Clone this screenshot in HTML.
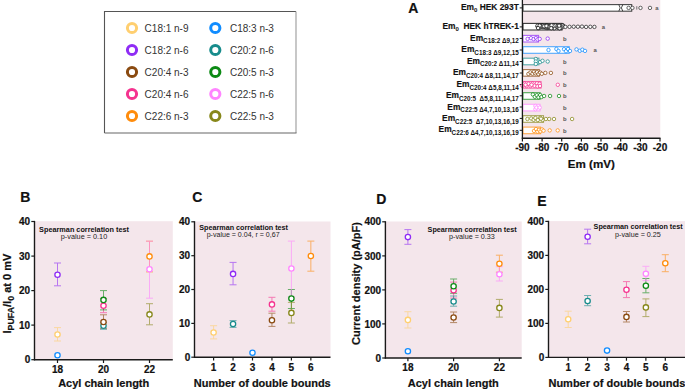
<!DOCTYPE html>
<html><head><meta charset="utf-8"><style>
html,body{margin:0;padding:0;background:#fff;width:685px;height:390px;overflow:hidden}
svg{position:absolute;left:0;top:0}
</style></head><body>
<svg width="685" height="390" viewBox="0 0 685 390">
<rect x="104.5" y="11.5" width="191.5" height="121.5" fill="#fff" stroke="none"/>
<path d="M104.5,133 V11.5 H296" fill="none" stroke="#555" stroke-width="1.1"/>
<path d="M296,11.5 V133" fill="none" stroke="#9a9a9a" stroke-width="1.1"/>
<path d="M104.5,133 H296.5" fill="none" stroke="#666" stroke-width="1.1"/>
<circle cx="132.0" cy="28.0" r="4.6" fill="none" stroke="#ffcf70" stroke-width="3"/>
<text x="144.6" y="31.5" font-family="Liberation Sans, sans-serif" font-size="10" fill="#333">C18:1 n-9</text>
<circle cx="215.3" cy="28.0" r="4.6" fill="none" stroke="#108cff" stroke-width="3"/>
<text x="230.0" y="31.5" font-family="Liberation Sans, sans-serif" font-size="10" fill="#333">C18:3 n-3</text>
<circle cx="132.0" cy="50.0" r="4.6" fill="none" stroke="#8f2cf5" stroke-width="3"/>
<text x="144.6" y="53.5" font-family="Liberation Sans, sans-serif" font-size="10" fill="#333">C18:2 n-6</text>
<circle cx="215.3" cy="50.0" r="4.6" fill="none" stroke="#188c8c" stroke-width="3"/>
<text x="230.0" y="53.5" font-family="Liberation Sans, sans-serif" font-size="10" fill="#333">C20:2 n-6</text>
<circle cx="132.0" cy="72.0" r="4.6" fill="none" stroke="#8a4a10" stroke-width="3"/>
<text x="144.6" y="75.5" font-family="Liberation Sans, sans-serif" font-size="10" fill="#333">C20:4 n-3</text>
<circle cx="215.3" cy="72.0" r="4.6" fill="none" stroke="#0c8a14" stroke-width="3"/>
<text x="230.0" y="75.5" font-family="Liberation Sans, sans-serif" font-size="10" fill="#333">C20:5 n-3</text>
<circle cx="132.0" cy="94.0" r="4.6" fill="none" stroke="#f5338f" stroke-width="3"/>
<text x="144.6" y="97.5" font-family="Liberation Sans, sans-serif" font-size="10" fill="#333">C20:4 n-6</text>
<circle cx="215.3" cy="94.0" r="4.6" fill="none" stroke="#ff85ff" stroke-width="3"/>
<text x="230.0" y="97.5" font-family="Liberation Sans, sans-serif" font-size="10" fill="#333">C22:5 n-6</text>
<circle cx="132.0" cy="116.0" r="4.6" fill="none" stroke="#ff8c0c" stroke-width="3"/>
<text x="144.6" y="119.5" font-family="Liberation Sans, sans-serif" font-size="10" fill="#333">C22:6 n-3</text>
<circle cx="215.3" cy="116.0" r="4.6" fill="none" stroke="#87871a" stroke-width="3"/>
<text x="230.0" y="119.5" font-family="Liberation Sans, sans-serif" font-size="10" fill="#333">C22:5 n-3</text>
<rect x="523" y="0" width="137.3" height="137.9" fill="#f4e6eb"/>
<text x="408.2" y="12.6" font-family="Liberation Sans, sans-serif" font-size="14" font-weight="bold" fill="#111" stroke="#111" stroke-width="0.2">A</text>
<line x1="519.7" y1="7.9" x2="522.4" y2="7.9" stroke="#1a1a1a" stroke-width="1"/>
<text x="518.8" y="9.7" text-anchor="end" font-family="Liberation Sans, sans-serif" font-weight="bold" fill="#111" style="white-space:pre"><tspan font-size="8.4" stroke="#111" stroke-width="0.15">Em</tspan><tspan font-size="6" dy="2.6">0</tspan><tspan font-size="8.4" dy="-2.6" stroke="#111" stroke-width="0.15"> HEK 293T</tspan></text>
<line x1="519.7" y1="26.9" x2="522.4" y2="26.9" stroke="#1a1a1a" stroke-width="1"/>
<text x="518.8" y="28.6" text-anchor="end" font-family="Liberation Sans, sans-serif" font-weight="bold" fill="#111" style="white-space:pre"><tspan font-size="8.4" stroke="#111" stroke-width="0.15">Em</tspan><tspan font-size="6" dy="2.6">0</tspan><tspan font-size="8.4" dy="-2.6" stroke="#111" stroke-width="0.15">  HEK hTREK-1</tspan></text>
<line x1="519.7" y1="38.4" x2="522.4" y2="38.4" stroke="#1a1a1a" stroke-width="1"/>
<text x="518.8" y="40.6" text-anchor="end" font-family="Liberation Sans, sans-serif" font-weight="bold" fill="#111" style="white-space:pre"><tspan font-size="8.4" stroke="#111" stroke-width="0.15">Em</tspan><tspan font-size="6.3" dy="2.8">C18:2 Δ9,12</tspan></text>
<line x1="519.7" y1="50.0" x2="522.4" y2="50.0" stroke="#1a1a1a" stroke-width="1"/>
<text x="518.8" y="52.0" text-anchor="end" font-family="Liberation Sans, sans-serif" font-weight="bold" fill="#111" style="white-space:pre"><tspan font-size="8.4" stroke="#111" stroke-width="0.15">Em</tspan><tspan font-size="6.3" dy="2.8">C18:3 Δ9,12,15</tspan></text>
<line x1="519.7" y1="61.5" x2="522.4" y2="61.5" stroke="#1a1a1a" stroke-width="1"/>
<text x="518.8" y="63.5" text-anchor="end" font-family="Liberation Sans, sans-serif" font-weight="bold" fill="#111" style="white-space:pre"><tspan font-size="8.4" stroke="#111" stroke-width="0.15">Em</tspan><tspan font-size="6.3" dy="2.8">C20:2 Δ11,14</tspan></text>
<line x1="519.7" y1="73.0" x2="522.4" y2="73.0" stroke="#1a1a1a" stroke-width="1"/>
<text x="518.8" y="74.9" text-anchor="end" font-family="Liberation Sans, sans-serif" font-weight="bold" fill="#111" style="white-space:pre"><tspan font-size="8.4" stroke="#111" stroke-width="0.15">Em</tspan><tspan font-size="6.3" dy="2.8">C20:4 Δ8,11,14,17</tspan></text>
<line x1="519.7" y1="84.6" x2="522.4" y2="84.6" stroke="#1a1a1a" stroke-width="1"/>
<text x="518.8" y="86.8" text-anchor="end" font-family="Liberation Sans, sans-serif" font-weight="bold" fill="#111" style="white-space:pre"><tspan font-size="8.4" stroke="#111" stroke-width="0.15">Em</tspan><tspan font-size="6.3" dy="2.8">C20:4 Δ5,8,11,14</tspan></text>
<line x1="519.7" y1="95.8" x2="522.4" y2="95.8" stroke="#1a1a1a" stroke-width="1"/>
<text x="518.8" y="98.0" text-anchor="end" font-family="Liberation Sans, sans-serif" font-weight="bold" fill="#111" style="white-space:pre"><tspan font-size="8.4" stroke="#111" stroke-width="0.15">Em</tspan><tspan font-size="6.3" dy="2.8">C20:5  Δ5,8,11,14,17</tspan></text>
<line x1="519.7" y1="107.0" x2="522.4" y2="107.0" stroke="#1a1a1a" stroke-width="1"/>
<text x="518.8" y="109.6" text-anchor="end" font-family="Liberation Sans, sans-serif" font-weight="bold" fill="#111" style="white-space:pre"><tspan font-size="8.4" stroke="#111" stroke-width="0.15">Em</tspan><tspan font-size="6.3" dy="2.8">C22:5 Δ4,7,10,13,16</tspan></text>
<line x1="519.7" y1="118.4" x2="522.4" y2="118.4" stroke="#1a1a1a" stroke-width="1"/>
<text x="518.8" y="121.0" text-anchor="end" font-family="Liberation Sans, sans-serif" font-weight="bold" fill="#111" style="white-space:pre"><tspan font-size="8.4" stroke="#111" stroke-width="0.15">Em</tspan><tspan font-size="6.3" dy="2.8">C22:5  Δ7,10,13,16,19</tspan></text>
<line x1="519.7" y1="130.3" x2="522.4" y2="130.3" stroke="#1a1a1a" stroke-width="1"/>
<text x="518.8" y="132.4" text-anchor="end" font-family="Liberation Sans, sans-serif" font-weight="bold" fill="#111" style="white-space:pre"><tspan font-size="8.4" stroke="#111" stroke-width="0.15">Em</tspan><tspan font-size="6.3" dy="2.8">C22:6 Δ4,7,10,13,16,19</tspan></text>
<rect x="523.0" y="4.6" width="108.7" height="6.6" fill="#fff" stroke="#333" stroke-width="1.1" stroke-opacity="0.9"/>
<path d="M618.8,4.6 Q621.6,7.9 618.8,11.2 M622.8,4.6 Q620,7.9 622.8,11.2" fill="none" stroke="#333" stroke-width="0.9"/>
<line x1="636.8" y1="6.2" x2="636.8" y2="9.6" stroke="#555" stroke-width="0.8"/>
<circle cx="628.6" cy="7.9" r="1.72" fill="#fff" stroke="#333" stroke-width="0.75"/>
<circle cx="632.4" cy="7.9" r="1.72" fill="#fff" stroke="#333" stroke-width="0.75"/>
<circle cx="640.5" cy="7.9" r="1.72" fill="#fff" stroke="#333" stroke-width="0.75"/>
<circle cx="650.0" cy="7.9" r="1.72" fill="#fff" stroke="#333" stroke-width="0.75"/>
<text x="655.2" y="10.1" font-family="Liberation Sans, sans-serif" font-size="5.9" font-weight="bold" fill="#555">a</text>
<rect x="523.0" y="23.4" width="39.0" height="6.6" fill="#fff" stroke="#222" stroke-width="1.1" stroke-opacity="0.9"/>
<circle cx="545.9" cy="25.7" r="1.72" fill="#fff" stroke="#222" stroke-width="0.75"/>
<circle cx="554.4" cy="25.5" r="1.72" fill="#fff" stroke="#222" stroke-width="0.75"/>
<circle cx="551.4" cy="26.3" r="1.72" fill="#fff" stroke="#222" stroke-width="0.75"/>
<circle cx="539.0" cy="26.8" r="1.72" fill="#fff" stroke="#222" stroke-width="0.75"/>
<circle cx="538.5" cy="26.6" r="1.72" fill="#fff" stroke="#222" stroke-width="0.75"/>
<circle cx="539.3" cy="25.5" r="1.72" fill="#fff" stroke="#222" stroke-width="0.75"/>
<circle cx="548.5" cy="27.7" r="1.72" fill="#fff" stroke="#222" stroke-width="0.75"/>
<circle cx="540.7" cy="25.9" r="1.72" fill="#fff" stroke="#222" stroke-width="0.75"/>
<circle cx="553.8" cy="28.1" r="1.72" fill="#fff" stroke="#222" stroke-width="0.75"/>
<circle cx="552.5" cy="26.4" r="1.72" fill="#fff" stroke="#222" stroke-width="0.75"/>
<circle cx="562.9" cy="25.4" r="1.72" fill="#fff" stroke="#222" stroke-width="0.75"/>
<circle cx="559.8" cy="26.1" r="1.72" fill="#fff" stroke="#222" stroke-width="0.75"/>
<circle cx="541.3" cy="25.6" r="1.72" fill="#fff" stroke="#222" stroke-width="0.75"/>
<circle cx="545.5" cy="27.7" r="1.72" fill="#fff" stroke="#222" stroke-width="0.75"/>
<circle cx="542.2" cy="27.0" r="1.72" fill="#fff" stroke="#222" stroke-width="0.75"/>
<circle cx="554.1" cy="26.4" r="1.72" fill="#fff" stroke="#222" stroke-width="0.75"/>
<circle cx="551.7" cy="25.4" r="1.72" fill="#fff" stroke="#222" stroke-width="0.75"/>
<circle cx="539.0" cy="25.9" r="1.72" fill="#fff" stroke="#222" stroke-width="0.75"/>
<circle cx="555.2" cy="26.5" r="1.72" fill="#fff" stroke="#222" stroke-width="0.75"/>
<circle cx="545.7" cy="27.0" r="1.72" fill="#fff" stroke="#222" stroke-width="0.75"/>
<circle cx="549.3" cy="26.1" r="1.72" fill="#fff" stroke="#222" stroke-width="0.75"/>
<circle cx="558.2" cy="27.3" r="1.72" fill="#fff" stroke="#222" stroke-width="0.75"/>
<circle cx="543.8" cy="27.0" r="1.72" fill="#fff" stroke="#222" stroke-width="0.75"/>
<circle cx="551.2" cy="27.9" r="1.72" fill="#fff" stroke="#222" stroke-width="0.75"/>
<circle cx="556.5" cy="26.1" r="1.72" fill="#fff" stroke="#222" stroke-width="0.75"/>
<circle cx="563.0" cy="25.6" r="1.72" fill="#fff" stroke="#222" stroke-width="0.75"/>
<circle cx="548.4" cy="27.5" r="1.72" fill="#fff" stroke="#222" stroke-width="0.75"/>
<circle cx="541.5" cy="26.7" r="1.72" fill="#fff" stroke="#222" stroke-width="0.75"/>
<circle cx="538.5" cy="27.3" r="1.72" fill="#fff" stroke="#222" stroke-width="0.75"/>
<circle cx="557.4" cy="27.0" r="1.72" fill="#fff" stroke="#222" stroke-width="0.75"/>
<circle cx="560.3" cy="26.2" r="1.72" fill="#fff" stroke="#222" stroke-width="0.75"/>
<circle cx="555.6" cy="27.0" r="1.72" fill="#fff" stroke="#222" stroke-width="0.75"/>
<circle cx="552.6" cy="26.6" r="1.72" fill="#fff" stroke="#222" stroke-width="0.75"/>
<circle cx="559.3" cy="28.1" r="1.72" fill="#fff" stroke="#222" stroke-width="0.75"/>
<circle cx="549.8" cy="27.2" r="1.72" fill="#fff" stroke="#222" stroke-width="0.75"/>
<circle cx="539.1" cy="27.4" r="1.72" fill="#fff" stroke="#222" stroke-width="0.75"/>
<circle cx="554.3" cy="28.2" r="1.72" fill="#fff" stroke="#222" stroke-width="0.75"/>
<circle cx="558.9" cy="26.1" r="1.72" fill="#fff" stroke="#222" stroke-width="0.75"/>
<circle cx="547.5" cy="27.3" r="1.72" fill="#fff" stroke="#222" stroke-width="0.75"/>
<circle cx="538.1" cy="26.6" r="1.72" fill="#fff" stroke="#222" stroke-width="0.75"/>
<circle cx="541.9" cy="25.6" r="1.72" fill="#fff" stroke="#222" stroke-width="0.75"/>
<circle cx="539.0" cy="27.6" r="1.72" fill="#fff" stroke="#222" stroke-width="0.75"/>
<circle cx="540.9" cy="26.0" r="1.72" fill="#fff" stroke="#222" stroke-width="0.75"/>
<circle cx="547.7" cy="27.9" r="1.72" fill="#fff" stroke="#222" stroke-width="0.75"/>
<circle cx="539.6" cy="26.6" r="1.72" fill="#fff" stroke="#222" stroke-width="0.75"/>
<circle cx="551.8" cy="27.9" r="1.72" fill="#fff" stroke="#222" stroke-width="0.75"/>
<circle cx="558.8" cy="27.8" r="1.72" fill="#fff" stroke="#222" stroke-width="0.75"/>
<circle cx="544.7" cy="26.5" r="1.72" fill="#fff" stroke="#222" stroke-width="0.75"/>
<circle cx="546.8" cy="27.9" r="1.72" fill="#fff" stroke="#222" stroke-width="0.75"/>
<circle cx="562.4" cy="25.7" r="1.72" fill="#fff" stroke="#222" stroke-width="0.75"/>
<circle cx="542.1" cy="25.9" r="1.72" fill="#fff" stroke="#222" stroke-width="0.75"/>
<circle cx="543.6" cy="26.7" r="1.72" fill="#fff" stroke="#222" stroke-width="0.75"/>
<circle cx="552.8" cy="26.0" r="1.72" fill="#fff" stroke="#222" stroke-width="0.75"/>
<circle cx="537.6" cy="26.5" r="1.72" fill="#fff" stroke="#222" stroke-width="0.75"/>
<circle cx="547.1" cy="26.9" r="1.72" fill="#fff" stroke="#222" stroke-width="0.75"/>
<circle cx="562.3" cy="27.3" r="1.72" fill="#fff" stroke="#222" stroke-width="0.75"/>
<circle cx="550.9" cy="27.1" r="1.72" fill="#fff" stroke="#222" stroke-width="0.75"/>
<circle cx="555.1" cy="25.4" r="1.72" fill="#fff" stroke="#222" stroke-width="0.75"/>
<circle cx="560.9" cy="27.6" r="1.72" fill="#fff" stroke="#222" stroke-width="0.75"/>
<circle cx="560.2" cy="27.6" r="1.72" fill="#fff" stroke="#222" stroke-width="0.75"/>
<circle cx="547.7" cy="26.4" r="1.72" fill="#fff" stroke="#222" stroke-width="0.75"/>
<circle cx="540.2" cy="27.2" r="1.72" fill="#fff" stroke="#222" stroke-width="0.75"/>
<circle cx="539.1" cy="25.5" r="1.72" fill="#fff" stroke="#222" stroke-width="0.75"/>
<circle cx="542.9" cy="25.7" r="1.72" fill="#fff" stroke="#222" stroke-width="0.75"/>
<circle cx="546.3" cy="25.4" r="1.72" fill="#fff" stroke="#222" stroke-width="0.75"/>
<circle cx="537.5" cy="25.7" r="1.72" fill="#fff" stroke="#222" stroke-width="0.75"/>
<circle cx="540.1" cy="26.3" r="1.72" fill="#fff" stroke="#222" stroke-width="0.75"/>
<circle cx="538.2" cy="27.9" r="1.72" fill="#fff" stroke="#222" stroke-width="0.75"/>
<circle cx="553.5" cy="25.7" r="1.72" fill="#fff" stroke="#222" stroke-width="0.75"/>
<circle cx="544.1" cy="26.3" r="1.72" fill="#fff" stroke="#222" stroke-width="0.75"/>
<circle cx="547.0" cy="25.6" r="1.72" fill="#fff" stroke="#222" stroke-width="0.75"/>
<circle cx="559.6" cy="28.2" r="1.72" fill="#fff" stroke="#222" stroke-width="0.75"/>
<circle cx="549.6" cy="26.7" r="1.72" fill="#fff" stroke="#222" stroke-width="0.75"/>
<circle cx="539.7" cy="25.6" r="1.72" fill="#fff" stroke="#222" stroke-width="0.75"/>
<circle cx="546.4" cy="26.0" r="1.72" fill="#fff" stroke="#222" stroke-width="0.75"/>
<circle cx="559.1" cy="25.7" r="1.72" fill="#fff" stroke="#222" stroke-width="0.75"/>
<circle cx="538.1" cy="28.1" r="1.72" fill="#fff" stroke="#222" stroke-width="0.75"/>
<circle cx="551.2" cy="25.7" r="1.72" fill="#fff" stroke="#222" stroke-width="0.75"/>
<circle cx="551.6" cy="25.3" r="1.72" fill="#fff" stroke="#222" stroke-width="0.75"/>
<circle cx="551.2" cy="28.2" r="1.72" fill="#fff" stroke="#222" stroke-width="0.75"/>
<circle cx="565.4" cy="26.9" r="1.72" fill="#fff" stroke="#222" stroke-width="0.75"/>
<circle cx="569.5" cy="26.8" r="1.72" fill="#fff" stroke="#222" stroke-width="0.75"/>
<circle cx="573.7" cy="26.7" r="1.72" fill="#fff" stroke="#222" stroke-width="0.75"/>
<circle cx="577.9" cy="26.7" r="1.72" fill="#fff" stroke="#222" stroke-width="0.75"/>
<circle cx="582.0" cy="26.6" r="1.72" fill="#fff" stroke="#222" stroke-width="0.75"/>
<circle cx="586.1" cy="26.9" r="1.72" fill="#fff" stroke="#222" stroke-width="0.75"/>
<circle cx="590.3" cy="26.8" r="1.72" fill="#fff" stroke="#222" stroke-width="0.75"/>
<circle cx="594.4" cy="26.9" r="1.72" fill="#fff" stroke="#222" stroke-width="0.75"/>
<text x="601.8" y="28.9" font-family="Liberation Sans, sans-serif" font-size="5.9" font-weight="bold" fill="#555">a</text>
<rect x="523.0" y="35.4" width="15.5" height="6.6" fill="#fff" stroke="#8f2cf5" stroke-width="1.1" stroke-opacity="0.72"/>
<circle cx="527.6" cy="38.9" r="1.72" fill="#fff" stroke="#8f2cf5" stroke-width="0.75"/>
<circle cx="531.0" cy="38.2" r="1.72" fill="#fff" stroke="#8f2cf5" stroke-width="0.75"/>
<circle cx="533.6" cy="39.1" r="1.72" fill="#fff" stroke="#8f2cf5" stroke-width="0.75"/>
<circle cx="536.0" cy="37.9" r="1.72" fill="#fff" stroke="#8f2cf5" stroke-width="0.75"/>
<circle cx="537.5" cy="39.5" r="1.72" fill="#fff" stroke="#8f2cf5" stroke-width="0.75"/>
<circle cx="539.7" cy="38.9" r="1.72" fill="#fff" stroke="#8f2cf5" stroke-width="0.75"/>
<circle cx="547.7" cy="38.6" r="1.72" fill="#fff" stroke="#8f2cf5" stroke-width="0.75"/>
<text x="563.1" y="40.9" font-family="Liberation Sans, sans-serif" font-size="5.9" font-weight="bold" fill="#555">b</text>
<rect x="523.0" y="46.7" width="46.2" height="6.6" fill="#fff" stroke="#108cff" stroke-width="1.1" stroke-opacity="0.72"/>
<circle cx="548.5" cy="50.0" r="1.72" fill="#fff" stroke="#108cff" stroke-width="0.75"/>
<circle cx="556.4" cy="49.0" r="1.72" fill="#fff" stroke="#108cff" stroke-width="0.75"/>
<circle cx="558.5" cy="51.0" r="1.72" fill="#fff" stroke="#108cff" stroke-width="0.75"/>
<circle cx="564.0" cy="49.2" r="1.72" fill="#fff" stroke="#108cff" stroke-width="0.75"/>
<circle cx="566.0" cy="51.2" r="1.72" fill="#fff" stroke="#108cff" stroke-width="0.75"/>
<circle cx="568.0" cy="49.0" r="1.72" fill="#fff" stroke="#108cff" stroke-width="0.75"/>
<circle cx="570.0" cy="51.0" r="1.72" fill="#fff" stroke="#108cff" stroke-width="0.75"/>
<circle cx="576.5" cy="49.4" r="1.72" fill="#fff" stroke="#108cff" stroke-width="0.75"/>
<circle cx="579.8" cy="50.8" r="1.72" fill="#fff" stroke="#108cff" stroke-width="0.75"/>
<circle cx="582.4" cy="49.7" r="1.72" fill="#fff" stroke="#108cff" stroke-width="0.75"/>
<circle cx="585.0" cy="50.9" r="1.72" fill="#fff" stroke="#108cff" stroke-width="0.75"/>
<text x="593.4" y="52.2" font-family="Liberation Sans, sans-serif" font-size="5.9" font-weight="bold" fill="#555">a</text>
<rect x="523.0" y="58.2" width="15.9" height="6.6" fill="#fff" stroke="#188c8c" stroke-width="1.1" stroke-opacity="0.72"/>
<circle cx="535.8" cy="59.0" r="1.72" fill="#fff" stroke="#188c8c" stroke-width="0.75"/>
<circle cx="535.8" cy="61.5" r="1.72" fill="#fff" stroke="#188c8c" stroke-width="0.75"/>
<circle cx="535.8" cy="64.0" r="1.72" fill="#fff" stroke="#188c8c" stroke-width="0.75"/>
<circle cx="540.1" cy="62.1" r="1.72" fill="#fff" stroke="#188c8c" stroke-width="0.75"/>
<circle cx="542.5" cy="60.8" r="1.72" fill="#fff" stroke="#188c8c" stroke-width="0.75"/>
<circle cx="547.7" cy="61.5" r="1.72" fill="#fff" stroke="#188c8c" stroke-width="0.75"/>
<text x="563.1" y="63.8" font-family="Liberation Sans, sans-serif" font-size="5.9" font-weight="bold" fill="#555">b</text>
<rect x="523.0" y="69.6" width="16.3" height="6.6" fill="#fff" stroke="#8a4a10" stroke-width="1.1" stroke-opacity="0.72"/>
<circle cx="528.4" cy="73.9" r="1.72" fill="#fff" stroke="#8a4a10" stroke-width="0.75"/>
<circle cx="530.5" cy="72.4" r="1.72" fill="#fff" stroke="#8a4a10" stroke-width="0.75"/>
<circle cx="532.5" cy="73.7" r="1.72" fill="#fff" stroke="#8a4a10" stroke-width="0.75"/>
<circle cx="534.0" cy="71.7" r="1.72" fill="#fff" stroke="#8a4a10" stroke-width="0.75"/>
<circle cx="535.5" cy="73.4" r="1.72" fill="#fff" stroke="#8a4a10" stroke-width="0.75"/>
<circle cx="537.0" cy="72.2" r="1.72" fill="#fff" stroke="#8a4a10" stroke-width="0.75"/>
<circle cx="538.5" cy="74.1" r="1.72" fill="#fff" stroke="#8a4a10" stroke-width="0.75"/>
<circle cx="540.2" cy="72.6" r="1.72" fill="#fff" stroke="#8a4a10" stroke-width="0.75"/>
<circle cx="541.8" cy="73.8" r="1.72" fill="#fff" stroke="#8a4a10" stroke-width="0.75"/>
<circle cx="545.3" cy="72.9" r="1.72" fill="#fff" stroke="#8a4a10" stroke-width="0.75"/>
<circle cx="550.9" cy="72.9" r="1.72" fill="#fff" stroke="#8a4a10" stroke-width="0.75"/>
<text x="563.1" y="75.1" font-family="Liberation Sans, sans-serif" font-size="5.9" font-weight="bold" fill="#555">b</text>
<rect x="523.0" y="81.5" width="18.0" height="6.6" fill="#fff" stroke="#f5338f" stroke-width="1.1" stroke-opacity="0.72"/>
<circle cx="522.4" cy="85.8" r="1.72" fill="#fff" stroke="#f5338f" stroke-width="0.75"/>
<circle cx="524.5" cy="83.6" r="1.72" fill="#fff" stroke="#f5338f" stroke-width="0.75"/>
<circle cx="526.5" cy="86.0" r="1.72" fill="#fff" stroke="#f5338f" stroke-width="0.75"/>
<circle cx="528.5" cy="83.8" r="1.72" fill="#fff" stroke="#f5338f" stroke-width="0.75"/>
<circle cx="530.5" cy="86.0" r="1.72" fill="#fff" stroke="#f5338f" stroke-width="0.75"/>
<circle cx="532.5" cy="83.6" r="1.72" fill="#fff" stroke="#f5338f" stroke-width="0.75"/>
<circle cx="534.5" cy="85.8" r="1.72" fill="#fff" stroke="#f5338f" stroke-width="0.75"/>
<circle cx="537.0" cy="83.3" r="1.72" fill="#fff" stroke="#f5338f" stroke-width="0.75"/>
<circle cx="537.5" cy="86.3" r="1.72" fill="#fff" stroke="#f5338f" stroke-width="0.75"/>
<circle cx="539.5" cy="83.8" r="1.72" fill="#fff" stroke="#f5338f" stroke-width="0.75"/>
<circle cx="540.0" cy="86.0" r="1.72" fill="#fff" stroke="#f5338f" stroke-width="0.75"/>
<circle cx="525.5" cy="84.8" r="1.72" fill="#fff" stroke="#f5338f" stroke-width="0.75"/>
<circle cx="531.5" cy="84.8" r="1.72" fill="#fff" stroke="#f5338f" stroke-width="0.75"/>
<circle cx="557.8" cy="84.8" r="1.72" fill="#fff" stroke="#f5338f" stroke-width="0.75"/>
<text x="563.1" y="87.0" font-family="Liberation Sans, sans-serif" font-size="5.9" font-weight="bold" fill="#555">b</text>
<rect x="523.0" y="92.7" width="17.1" height="6.6" fill="#fff" stroke="#0c8a14" stroke-width="1.1" stroke-opacity="0.72"/>
<circle cx="532.9" cy="94.5" r="1.72" fill="#fff" stroke="#0c8a14" stroke-width="0.75"/>
<circle cx="534.8" cy="96.8" r="1.72" fill="#fff" stroke="#0c8a14" stroke-width="0.75"/>
<circle cx="536.8" cy="95.2" r="1.72" fill="#fff" stroke="#0c8a14" stroke-width="0.75"/>
<circle cx="538.5" cy="97.2" r="1.72" fill="#fff" stroke="#0c8a14" stroke-width="0.75"/>
<circle cx="540.2" cy="95.0" r="1.72" fill="#fff" stroke="#0c8a14" stroke-width="0.75"/>
<circle cx="541.5" cy="97.0" r="1.72" fill="#fff" stroke="#0c8a14" stroke-width="0.75"/>
<circle cx="544.1" cy="96.0" r="1.72" fill="#fff" stroke="#0c8a14" stroke-width="0.75"/>
<circle cx="550.1" cy="96.0" r="1.72" fill="#fff" stroke="#0c8a14" stroke-width="0.75"/>
<circle cx="559.0" cy="96.0" r="1.72" fill="#fff" stroke="#0c8a14" stroke-width="0.75"/>
<text x="563.1" y="98.2" font-family="Liberation Sans, sans-serif" font-size="5.9" font-weight="bold" fill="#555">b</text>
<rect x="523.0" y="104.3" width="17.0" height="6.6" fill="#fff" stroke="#ff85ff" stroke-width="1.1" stroke-opacity="0.72"/>
<circle cx="535.4" cy="106.0" r="1.72" fill="#fff" stroke="#ff85ff" stroke-width="0.75"/>
<circle cx="535.4" cy="109.2" r="1.72" fill="#fff" stroke="#ff85ff" stroke-width="0.75"/>
<circle cx="536.4" cy="107.6" r="1.72" fill="#fff" stroke="#ff85ff" stroke-width="0.75"/>
<circle cx="539.7" cy="107.6" r="1.72" fill="#fff" stroke="#ff85ff" stroke-width="0.75"/>
<text x="563.1" y="109.8" font-family="Liberation Sans, sans-serif" font-size="5.9" font-weight="bold" fill="#555">b</text>
<rect x="523.0" y="115.7" width="20.5" height="6.6" fill="#fff" stroke="#87871a" stroke-width="1.1" stroke-opacity="0.72"/>
<circle cx="527.4" cy="119.0" r="1.72" fill="#fff" stroke="#87871a" stroke-width="0.75"/>
<circle cx="531.2" cy="118.5" r="1.72" fill="#fff" stroke="#87871a" stroke-width="0.75"/>
<circle cx="533.6" cy="119.8" r="1.72" fill="#fff" stroke="#87871a" stroke-width="0.75"/>
<circle cx="535.4" cy="118.0" r="1.72" fill="#fff" stroke="#87871a" stroke-width="0.75"/>
<circle cx="537.8" cy="120.0" r="1.72" fill="#fff" stroke="#87871a" stroke-width="0.75"/>
<circle cx="540.2" cy="117.8" r="1.72" fill="#fff" stroke="#87871a" stroke-width="0.75"/>
<circle cx="542.6" cy="120.0" r="1.72" fill="#fff" stroke="#87871a" stroke-width="0.75"/>
<circle cx="541.0" cy="118.7" r="1.72" fill="#fff" stroke="#87871a" stroke-width="0.75"/>
<circle cx="545.9" cy="119.0" r="1.72" fill="#fff" stroke="#87871a" stroke-width="0.75"/>
<circle cx="549.2" cy="119.0" r="1.72" fill="#fff" stroke="#87871a" stroke-width="0.75"/>
<circle cx="554.0" cy="119.0" r="1.72" fill="#fff" stroke="#87871a" stroke-width="0.75"/>
<circle cx="572.1" cy="119.0" r="1.72" fill="#fff" stroke="#87871a" stroke-width="0.75"/>
<text x="563.1" y="121.2" font-family="Liberation Sans, sans-serif" font-size="5.9" font-weight="bold" fill="#555">b</text>
<rect x="523.0" y="127.1" width="17.5" height="6.6" fill="#fff" stroke="#ff8c0c" stroke-width="1.1" stroke-opacity="0.72"/>
<circle cx="534.0" cy="130.9" r="1.72" fill="#fff" stroke="#ff8c0c" stroke-width="0.75"/>
<circle cx="536.0" cy="129.1" r="1.72" fill="#fff" stroke="#ff8c0c" stroke-width="0.75"/>
<circle cx="537.5" cy="131.6" r="1.72" fill="#fff" stroke="#ff8c0c" stroke-width="0.75"/>
<circle cx="539.0" cy="129.8" r="1.72" fill="#fff" stroke="#ff8c0c" stroke-width="0.75"/>
<circle cx="540.5" cy="131.4" r="1.72" fill="#fff" stroke="#ff8c0c" stroke-width="0.75"/>
<circle cx="542.0" cy="129.4" r="1.72" fill="#fff" stroke="#ff8c0c" stroke-width="0.75"/>
<circle cx="543.5" cy="130.7" r="1.72" fill="#fff" stroke="#ff8c0c" stroke-width="0.75"/>
<circle cx="549.7" cy="130.4" r="1.72" fill="#fff" stroke="#ff8c0c" stroke-width="0.75"/>
<circle cx="557.7" cy="130.4" r="1.72" fill="#fff" stroke="#ff8c0c" stroke-width="0.75"/>
<text x="563.1" y="132.6" font-family="Liberation Sans, sans-serif" font-size="5.9" font-weight="bold" fill="#555">b</text>
<line x1="522.4" y1="0" x2="522.4" y2="138.6" stroke="#1a1a1a" stroke-width="1.3"/>
<line x1="521.8" y1="138.3" x2="660.5" y2="138.3" stroke="#1a1a1a" stroke-width="1.5"/>
<line x1="522.4" y1="138.3" x2="522.4" y2="141.5" stroke="#1a1a1a" stroke-width="1.2"/>
<text x="522.4" y="151.1" text-anchor="middle" font-family="Liberation Sans, sans-serif" font-size="10" font-weight="bold" fill="#111" stroke="#111" stroke-width="0.2">-90</text>
<line x1="542.1" y1="138.3" x2="542.1" y2="141.5" stroke="#1a1a1a" stroke-width="1.2"/>
<text x="542.1" y="151.1" text-anchor="middle" font-family="Liberation Sans, sans-serif" font-size="10" font-weight="bold" fill="#111" stroke="#111" stroke-width="0.2">-80</text>
<line x1="561.7" y1="138.3" x2="561.7" y2="141.5" stroke="#1a1a1a" stroke-width="1.2"/>
<text x="561.7" y="151.1" text-anchor="middle" font-family="Liberation Sans, sans-serif" font-size="10" font-weight="bold" fill="#111" stroke="#111" stroke-width="0.2">-70</text>
<line x1="581.4" y1="138.3" x2="581.4" y2="141.5" stroke="#1a1a1a" stroke-width="1.2"/>
<text x="581.4" y="151.1" text-anchor="middle" font-family="Liberation Sans, sans-serif" font-size="10" font-weight="bold" fill="#111" stroke="#111" stroke-width="0.2">-60</text>
<line x1="601.0" y1="138.3" x2="601.0" y2="141.5" stroke="#1a1a1a" stroke-width="1.2"/>
<text x="601.0" y="151.1" text-anchor="middle" font-family="Liberation Sans, sans-serif" font-size="10" font-weight="bold" fill="#111" stroke="#111" stroke-width="0.2">-50</text>
<line x1="620.7" y1="138.3" x2="620.7" y2="141.5" stroke="#1a1a1a" stroke-width="1.2"/>
<text x="620.7" y="151.1" text-anchor="middle" font-family="Liberation Sans, sans-serif" font-size="10" font-weight="bold" fill="#111" stroke="#111" stroke-width="0.2">-40</text>
<line x1="640.4" y1="138.3" x2="640.4" y2="141.5" stroke="#1a1a1a" stroke-width="1.2"/>
<text x="640.4" y="151.1" text-anchor="middle" font-family="Liberation Sans, sans-serif" font-size="10" font-weight="bold" fill="#111" stroke="#111" stroke-width="0.2">-30</text>
<line x1="660.0" y1="138.3" x2="660.0" y2="141.5" stroke="#1a1a1a" stroke-width="1.2"/>
<text x="660.0" y="151.1" text-anchor="middle" font-family="Liberation Sans, sans-serif" font-size="10" font-weight="bold" fill="#111" stroke="#111" stroke-width="0.2">-20</text>
<text x="591.3" y="167.5" text-anchor="middle" font-family="Liberation Sans, sans-serif" font-size="11.6" font-weight="bold" fill="#111" stroke="#111" stroke-width="0.2">Em (mV)</text>
<rect x="35.1" y="221.2" width="137.7" height="138.5" fill="#f4e6eb"/>
<text x="20.3" y="202.4" font-family="Liberation Sans, sans-serif" font-size="14" font-weight="bold" fill="#111" stroke="#111" stroke-width="0.2">B</text>
<text x="39.1" y="231.8" font-family="Liberation Sans, sans-serif" font-size="7.25" font-weight="bold" fill="#111" textLength="89.9" lengthAdjust="spacingAndGlyphs">Spearman correlation test</text>
<text x="60.8" y="239.3" font-family="Liberation Sans, sans-serif" font-size="7.2" fill="#222" textLength="46.4" lengthAdjust="spacingAndGlyphs">p-value = 0.10</text>
<g stroke="#8f2cf5" stroke-width="1" opacity="0.6"><line x1="57.5" y1="263.0" x2="57.5" y2="285.8"/><line x1="54.0" y1="263.0" x2="61.0" y2="263.0"/><line x1="54.0" y1="285.8" x2="61.0" y2="285.8"/></g>
<g stroke="#ffcf70" stroke-width="1" opacity="0.6"><line x1="57.5" y1="327.6" x2="57.5" y2="341.0"/><line x1="54.0" y1="327.6" x2="61.0" y2="327.6"/><line x1="54.0" y1="341.0" x2="61.0" y2="341.0"/></g>
<g stroke="#f5338f" stroke-width="1" opacity="0.6"><line x1="103.5" y1="298.5" x2="103.5" y2="312.7"/><line x1="100.0" y1="298.5" x2="107.0" y2="298.5"/><line x1="100.0" y1="312.7" x2="107.0" y2="312.7"/></g>
<g stroke="#0c8a14" stroke-width="1" opacity="0.6"><line x1="103.5" y1="290.6" x2="103.5" y2="309.9"/><line x1="100.0" y1="290.6" x2="107.0" y2="290.6"/><line x1="100.0" y1="309.9" x2="107.0" y2="309.9"/></g>
<g stroke="#188c8c" stroke-width="1" opacity="0.6"><line x1="103.5" y1="322.4" x2="103.5" y2="329.3"/><line x1="100.0" y1="322.4" x2="107.0" y2="322.4"/><line x1="100.0" y1="329.3" x2="107.0" y2="329.3"/></g>
<g stroke="#8a4a10" stroke-width="1" opacity="0.6"><line x1="103.5" y1="314.8" x2="103.5" y2="328.3"/><line x1="100.0" y1="314.8" x2="107.0" y2="314.8"/><line x1="100.0" y1="328.3" x2="107.0" y2="328.3"/></g>
<g stroke="#ff8c0c" stroke-width="1" opacity="0.6"><line x1="149.5" y1="241.2" x2="149.5" y2="271.9"/><line x1="146.0" y1="241.2" x2="153.0" y2="241.2"/><line x1="146.0" y1="271.9" x2="153.0" y2="271.9"/></g>
<g stroke="#ff85ff" stroke-width="1" opacity="0.6"><line x1="149.5" y1="241.2" x2="149.5" y2="298.2"/><line x1="146.0" y1="241.2" x2="153.0" y2="241.2"/><line x1="146.0" y1="298.2" x2="153.0" y2="298.2"/></g>
<g stroke="#87871a" stroke-width="1" opacity="0.6"><line x1="149.5" y1="303.7" x2="149.5" y2="324.8"/><line x1="146.0" y1="303.7" x2="153.0" y2="303.7"/><line x1="146.0" y1="324.8" x2="153.0" y2="324.8"/></g>
<circle cx="57.5" cy="274.7" r="2.65" fill="#fff" stroke="#8f2cf5" stroke-width="1.3"/>
<circle cx="57.5" cy="334.5" r="2.65" fill="#fff" stroke="#ffcf70" stroke-width="1.3"/>
<circle cx="57.5" cy="355.2" r="2.65" fill="#fff" stroke="#108cff" stroke-width="1.3"/>
<circle cx="103.5" cy="305.8" r="2.65" fill="#fff" stroke="#f5338f" stroke-width="1.3"/>
<circle cx="103.5" cy="299.9" r="2.65" fill="#fff" stroke="#0c8a14" stroke-width="1.3"/>
<circle cx="103.5" cy="325.8" r="2.65" fill="#fff" stroke="#188c8c" stroke-width="1.3"/>
<circle cx="103.5" cy="322.0" r="2.65" fill="#fff" stroke="#8a4a10" stroke-width="1.3"/>
<circle cx="149.5" cy="256.4" r="2.65" fill="#fff" stroke="#ff8c0c" stroke-width="1.3"/>
<circle cx="149.5" cy="269.2" r="2.65" fill="#fff" stroke="#ff85ff" stroke-width="1.3"/>
<circle cx="149.5" cy="314.4" r="2.65" fill="#fff" stroke="#87871a" stroke-width="1.3"/>
<line x1="34.5" y1="220.9" x2="34.5" y2="360.3" stroke="#1a1a1a" stroke-width="1.4"/>
<line x1="33.9" y1="359.7" x2="172.8" y2="359.7" stroke="#1a1a1a" stroke-width="1.4"/>
<line x1="31.3" y1="359.7" x2="34.5" y2="359.7" stroke="#1a1a1a" stroke-width="1.2"/>
<text x="30.2" y="363.3" text-anchor="end" font-family="Liberation Sans, sans-serif" font-size="10" font-weight="bold" fill="#111" stroke="#111" stroke-width="0.2">0</text>
<line x1="31.3" y1="325.1" x2="34.5" y2="325.1" stroke="#1a1a1a" stroke-width="1.2"/>
<text x="30.2" y="328.8" text-anchor="end" font-family="Liberation Sans, sans-serif" font-size="10" font-weight="bold" fill="#111" stroke="#111" stroke-width="0.2">10</text>
<line x1="31.3" y1="290.6" x2="34.5" y2="290.6" stroke="#1a1a1a" stroke-width="1.2"/>
<text x="30.2" y="294.2" text-anchor="end" font-family="Liberation Sans, sans-serif" font-size="10" font-weight="bold" fill="#111" stroke="#111" stroke-width="0.2">20</text>
<line x1="31.3" y1="256.1" x2="34.5" y2="256.1" stroke="#1a1a1a" stroke-width="1.2"/>
<text x="30.2" y="259.7" text-anchor="end" font-family="Liberation Sans, sans-serif" font-size="10" font-weight="bold" fill="#111" stroke="#111" stroke-width="0.2">30</text>
<line x1="31.3" y1="221.5" x2="34.5" y2="221.5" stroke="#1a1a1a" stroke-width="1.2"/>
<text x="30.2" y="225.1" text-anchor="end" font-family="Liberation Sans, sans-serif" font-size="10" font-weight="bold" fill="#111" stroke="#111" stroke-width="0.2">40</text>
<line x1="57.5" y1="359.7" x2="57.5" y2="363.0" stroke="#1a1a1a" stroke-width="1.2"/>
<text x="57.5" y="373.1" text-anchor="middle" font-family="Liberation Sans, sans-serif" font-size="10" font-weight="bold" fill="#111" stroke="#111" stroke-width="0.2">18</text>
<line x1="103.5" y1="359.7" x2="103.5" y2="363.0" stroke="#1a1a1a" stroke-width="1.2"/>
<text x="103.5" y="373.1" text-anchor="middle" font-family="Liberation Sans, sans-serif" font-size="10" font-weight="bold" fill="#111" stroke="#111" stroke-width="0.2">20</text>
<line x1="149.5" y1="359.7" x2="149.5" y2="363.0" stroke="#1a1a1a" stroke-width="1.2"/>
<text x="149.5" y="373.1" text-anchor="middle" font-family="Liberation Sans, sans-serif" font-size="10" font-weight="bold" fill="#111" stroke="#111" stroke-width="0.2">22</text>
<text x="103.7" y="386.9" text-anchor="middle" font-family="Liberation Sans, sans-serif" font-size="11" font-weight="bold" fill="#111" stroke="#111" stroke-width="0.2">Acyl chain length</text>
<g transform="translate(10.6,293.6) rotate(-90)"><text x="0" y="0" text-anchor="middle" font-family="Liberation Sans, sans-serif" font-size="11" font-weight="bold" fill="#111" stroke="#111" stroke-width="0.2">I<tspan font-size="8.8" dy="3.6">PUFA</tspan><tspan dy="-3.6">/I</tspan><tspan font-size="8.8" dy="3.6">0</tspan><tspan dy="-3.6"> at 0 mV</tspan></text></g>
<rect x="195.1" y="221.5" width="135.4" height="135.7" fill="#f4e6eb"/>
<text x="192.2" y="202.4" font-family="Liberation Sans, sans-serif" font-size="14" font-weight="bold" fill="#111" stroke="#111" stroke-width="0.2">C</text>
<text x="199.3" y="230.3" font-family="Liberation Sans, sans-serif" font-size="7.25" font-weight="bold" fill="#111" textLength="88.7" lengthAdjust="spacingAndGlyphs">Spearman correlation test</text>
<text x="206.7" y="236.5" font-family="Liberation Sans, sans-serif" font-size="7.2" fill="#222" textLength="72.9" lengthAdjust="spacingAndGlyphs">p-value = 0.04, r = 0,67</text>
<g stroke="#8f2cf5" stroke-width="1" opacity="0.6"><line x1="233.04999999999998" y1="262.4" x2="233.04999999999998" y2="284.8"/><line x1="229.54999999999998" y1="262.4" x2="236.54999999999998" y2="262.4"/><line x1="229.54999999999998" y1="284.8" x2="236.54999999999998" y2="284.8"/></g>
<g stroke="#ffcf70" stroke-width="1" opacity="0.6"><line x1="213.6" y1="325.7" x2="213.6" y2="338.9"/><line x1="210.1" y1="325.7" x2="217.1" y2="325.7"/><line x1="210.1" y1="338.9" x2="217.1" y2="338.9"/></g>
<g stroke="#f5338f" stroke-width="1" opacity="0.6"><line x1="271.95" y1="297.3" x2="271.95" y2="311.2"/><line x1="268.45" y1="297.3" x2="275.45" y2="297.3"/><line x1="268.45" y1="311.2" x2="275.45" y2="311.2"/></g>
<g stroke="#0c8a14" stroke-width="1" opacity="0.6"><line x1="291.4" y1="289.5" x2="291.4" y2="308.5"/><line x1="287.9" y1="289.5" x2="294.9" y2="289.5"/><line x1="287.9" y1="308.5" x2="294.9" y2="308.5"/></g>
<g stroke="#188c8c" stroke-width="1" opacity="0.6"><line x1="233.04999999999998" y1="320.6" x2="233.04999999999998" y2="327.4"/><line x1="229.54999999999998" y1="320.6" x2="236.54999999999998" y2="320.6"/><line x1="229.54999999999998" y1="327.4" x2="236.54999999999998" y2="327.4"/></g>
<g stroke="#8a4a10" stroke-width="1" opacity="0.6"><line x1="271.95" y1="313.2" x2="271.95" y2="326.4"/><line x1="268.45" y1="313.2" x2="275.45" y2="313.2"/><line x1="268.45" y1="326.4" x2="275.45" y2="326.4"/></g>
<g stroke="#ff8c0c" stroke-width="1" opacity="0.6"><line x1="310.85" y1="241.1" x2="310.85" y2="271.2"/><line x1="307.35" y1="241.1" x2="314.35" y2="241.1"/><line x1="307.35" y1="271.2" x2="314.35" y2="271.2"/></g>
<g stroke="#ff85ff" stroke-width="1" opacity="0.6"><line x1="291.4" y1="241.1" x2="291.4" y2="296.9"/><line x1="287.9" y1="241.1" x2="294.9" y2="241.1"/><line x1="287.9" y1="296.9" x2="294.9" y2="296.9"/></g>
<g stroke="#87871a" stroke-width="1" opacity="0.6"><line x1="291.4" y1="302.4" x2="291.4" y2="323.0"/><line x1="287.9" y1="302.4" x2="294.9" y2="302.4"/><line x1="287.9" y1="323.0" x2="294.9" y2="323.0"/></g>
<circle cx="233.04999999999998" cy="273.9" r="2.65" fill="#fff" stroke="#8f2cf5" stroke-width="1.3"/>
<circle cx="213.6" cy="332.5" r="2.65" fill="#fff" stroke="#ffcf70" stroke-width="1.3"/>
<circle cx="252.5" cy="352.8" r="2.65" fill="#fff" stroke="#108cff" stroke-width="1.3"/>
<circle cx="271.95" cy="304.4" r="2.65" fill="#fff" stroke="#f5338f" stroke-width="1.3"/>
<circle cx="291.4" cy="298.6" r="2.65" fill="#fff" stroke="#0c8a14" stroke-width="1.3"/>
<circle cx="233.04999999999998" cy="324.0" r="2.65" fill="#fff" stroke="#188c8c" stroke-width="1.3"/>
<circle cx="271.95" cy="320.3" r="2.65" fill="#fff" stroke="#8a4a10" stroke-width="1.3"/>
<circle cx="310.85" cy="256.0" r="2.65" fill="#fff" stroke="#ff8c0c" stroke-width="1.3"/>
<circle cx="291.4" cy="268.5" r="2.65" fill="#fff" stroke="#ff85ff" stroke-width="1.3"/>
<circle cx="291.4" cy="312.9" r="2.65" fill="#fff" stroke="#87871a" stroke-width="1.3"/>
<line x1="194.5" y1="221.2" x2="194.5" y2="357.8" stroke="#1a1a1a" stroke-width="1.4"/>
<line x1="193.9" y1="357.2" x2="330.5" y2="357.2" stroke="#1a1a1a" stroke-width="1.4"/>
<line x1="191.3" y1="357.2" x2="194.5" y2="357.2" stroke="#1a1a1a" stroke-width="1.2"/>
<text x="190.2" y="360.8" text-anchor="end" font-family="Liberation Sans, sans-serif" font-size="10" font-weight="bold" fill="#111" stroke="#111" stroke-width="0.2">0</text>
<line x1="191.3" y1="323.4" x2="194.5" y2="323.4" stroke="#1a1a1a" stroke-width="1.2"/>
<text x="190.2" y="327.0" text-anchor="end" font-family="Liberation Sans, sans-serif" font-size="10" font-weight="bold" fill="#111" stroke="#111" stroke-width="0.2">10</text>
<line x1="191.3" y1="289.5" x2="194.5" y2="289.5" stroke="#1a1a1a" stroke-width="1.2"/>
<text x="190.2" y="293.1" text-anchor="end" font-family="Liberation Sans, sans-serif" font-size="10" font-weight="bold" fill="#111" stroke="#111" stroke-width="0.2">20</text>
<line x1="191.3" y1="255.7" x2="194.5" y2="255.7" stroke="#1a1a1a" stroke-width="1.2"/>
<text x="190.2" y="259.2" text-anchor="end" font-family="Liberation Sans, sans-serif" font-size="10" font-weight="bold" fill="#111" stroke="#111" stroke-width="0.2">30</text>
<line x1="191.3" y1="221.8" x2="194.5" y2="221.8" stroke="#1a1a1a" stroke-width="1.2"/>
<text x="190.2" y="225.4" text-anchor="end" font-family="Liberation Sans, sans-serif" font-size="10" font-weight="bold" fill="#111" stroke="#111" stroke-width="0.2">40</text>
<line x1="213.6" y1="357.2" x2="213.6" y2="360.5" stroke="#1a1a1a" stroke-width="1.2"/>
<text x="213.6" y="370.6" text-anchor="middle" font-family="Liberation Sans, sans-serif" font-size="10" font-weight="bold" fill="#111" stroke="#111" stroke-width="0.2">1</text>
<line x1="233.04999999999998" y1="357.2" x2="233.04999999999998" y2="360.5" stroke="#1a1a1a" stroke-width="1.2"/>
<text x="233.04999999999998" y="370.6" text-anchor="middle" font-family="Liberation Sans, sans-serif" font-size="10" font-weight="bold" fill="#111" stroke="#111" stroke-width="0.2">2</text>
<line x1="252.5" y1="357.2" x2="252.5" y2="360.5" stroke="#1a1a1a" stroke-width="1.2"/>
<text x="252.5" y="370.6" text-anchor="middle" font-family="Liberation Sans, sans-serif" font-size="10" font-weight="bold" fill="#111" stroke="#111" stroke-width="0.2">3</text>
<line x1="271.95" y1="357.2" x2="271.95" y2="360.5" stroke="#1a1a1a" stroke-width="1.2"/>
<text x="271.95" y="370.6" text-anchor="middle" font-family="Liberation Sans, sans-serif" font-size="10" font-weight="bold" fill="#111" stroke="#111" stroke-width="0.2">4</text>
<line x1="291.4" y1="357.2" x2="291.4" y2="360.5" stroke="#1a1a1a" stroke-width="1.2"/>
<text x="291.4" y="370.6" text-anchor="middle" font-family="Liberation Sans, sans-serif" font-size="10" font-weight="bold" fill="#111" stroke="#111" stroke-width="0.2">5</text>
<line x1="310.85" y1="357.2" x2="310.85" y2="360.5" stroke="#1a1a1a" stroke-width="1.2"/>
<text x="310.85" y="370.6" text-anchor="middle" font-family="Liberation Sans, sans-serif" font-size="10" font-weight="bold" fill="#111" stroke="#111" stroke-width="0.2">6</text>
<text x="262.3" y="386.9" text-anchor="middle" font-family="Liberation Sans, sans-serif" font-size="11" font-weight="bold" fill="#111" stroke="#111" stroke-width="0.2">Number of double bounds</text>
<rect x="386.0" y="221.5" width="135.7" height="136.5" fill="#f4e6eb"/>
<text x="376.2" y="203.8" font-family="Liberation Sans, sans-serif" font-size="14" font-weight="bold" fill="#111" stroke="#111" stroke-width="0.2">D</text>
<text x="427.6" y="231.7" font-family="Liberation Sans, sans-serif" font-size="7.25" font-weight="bold" fill="#111" textLength="89.1" lengthAdjust="spacingAndGlyphs">Spearman correlation test</text>
<text x="449.1" y="239.3" font-family="Liberation Sans, sans-serif" font-size="7.2" fill="#222" textLength="45.7" lengthAdjust="spacingAndGlyphs">p-value = 0.33</text>
<g stroke="#8f2cf5" stroke-width="1" opacity="0.6"><line x1="407.9" y1="229.6" x2="407.9" y2="244.3"/><line x1="404.4" y1="229.6" x2="411.4" y2="229.6"/><line x1="404.4" y1="244.3" x2="411.4" y2="244.3"/></g>
<g stroke="#ffcf70" stroke-width="1" opacity="0.6"><line x1="407.9" y1="311.7" x2="407.9" y2="328.0"/><line x1="404.4" y1="311.7" x2="411.4" y2="311.7"/><line x1="404.4" y1="328.0" x2="411.4" y2="328.0"/></g>
<g stroke="#f5338f" stroke-width="1" opacity="0.6"><line x1="453.6" y1="282.1" x2="453.6" y2="298.1"/><line x1="450.1" y1="282.1" x2="457.1" y2="282.1"/><line x1="450.1" y1="298.1" x2="457.1" y2="298.1"/></g>
<g stroke="#0c8a14" stroke-width="1" opacity="0.6"><line x1="453.6" y1="279.0" x2="453.6" y2="293.3"/><line x1="450.1" y1="279.0" x2="457.1" y2="279.0"/><line x1="450.1" y1="293.3" x2="457.1" y2="293.3"/></g>
<g stroke="#188c8c" stroke-width="1" opacity="0.6"><line x1="453.6" y1="296.0" x2="453.6" y2="306.2"/><line x1="450.1" y1="296.0" x2="457.1" y2="296.0"/><line x1="450.1" y1="306.2" x2="457.1" y2="306.2"/></g>
<g stroke="#8a4a10" stroke-width="1" opacity="0.6"><line x1="453.6" y1="312.0" x2="453.6" y2="322.6"/><line x1="450.1" y1="312.0" x2="457.1" y2="312.0"/><line x1="450.1" y1="322.6" x2="457.1" y2="322.6"/></g>
<g stroke="#ff8c0c" stroke-width="1" opacity="0.6"><line x1="499.4" y1="255.2" x2="499.4" y2="272.2"/><line x1="495.9" y1="255.2" x2="502.9" y2="255.2"/><line x1="495.9" y1="272.2" x2="502.9" y2="272.2"/></g>
<g stroke="#ff85ff" stroke-width="1" opacity="0.6"><line x1="499.4" y1="266.7" x2="499.4" y2="281.0"/><line x1="495.9" y1="266.7" x2="502.9" y2="266.7"/><line x1="495.9" y1="281.0" x2="502.9" y2="281.0"/></g>
<g stroke="#87871a" stroke-width="1" opacity="0.6"><line x1="499.4" y1="299.4" x2="499.4" y2="317.1"/><line x1="495.9" y1="299.4" x2="502.9" y2="299.4"/><line x1="495.9" y1="317.1" x2="502.9" y2="317.1"/></g>
<circle cx="407.9" cy="237.1" r="2.65" fill="#fff" stroke="#8f2cf5" stroke-width="1.3"/>
<circle cx="407.9" cy="319.9" r="2.65" fill="#fff" stroke="#ffcf70" stroke-width="1.3"/>
<circle cx="407.9" cy="351.2" r="2.65" fill="#fff" stroke="#108cff" stroke-width="1.3"/>
<circle cx="453.6" cy="290.2" r="2.65" fill="#fff" stroke="#f5338f" stroke-width="1.3"/>
<circle cx="453.6" cy="286.2" r="2.65" fill="#fff" stroke="#0c8a14" stroke-width="1.3"/>
<circle cx="453.6" cy="301.5" r="2.65" fill="#fff" stroke="#188c8c" stroke-width="1.3"/>
<circle cx="453.6" cy="317.5" r="2.65" fill="#fff" stroke="#8a4a10" stroke-width="1.3"/>
<circle cx="499.4" cy="263.7" r="2.65" fill="#fff" stroke="#ff8c0c" stroke-width="1.3"/>
<circle cx="499.4" cy="274.2" r="2.65" fill="#fff" stroke="#ff85ff" stroke-width="1.3"/>
<circle cx="499.4" cy="307.9" r="2.65" fill="#fff" stroke="#87871a" stroke-width="1.3"/>
<line x1="385.4" y1="221.2" x2="385.4" y2="358.6" stroke="#1a1a1a" stroke-width="1.4"/>
<line x1="384.8" y1="358.0" x2="521.7" y2="358.0" stroke="#1a1a1a" stroke-width="1.4"/>
<line x1="382.2" y1="358.0" x2="385.4" y2="358.0" stroke="#1a1a1a" stroke-width="1.2"/>
<text x="381.1" y="361.6" text-anchor="end" font-family="Liberation Sans, sans-serif" font-size="10" font-weight="bold" fill="#111" stroke="#111" stroke-width="0.2">0</text>
<line x1="382.2" y1="323.9" x2="385.4" y2="323.9" stroke="#1a1a1a" stroke-width="1.2"/>
<text x="381.1" y="327.6" text-anchor="end" font-family="Liberation Sans, sans-serif" font-size="10" font-weight="bold" fill="#111" stroke="#111" stroke-width="0.2">100</text>
<line x1="382.2" y1="289.9" x2="385.4" y2="289.9" stroke="#1a1a1a" stroke-width="1.2"/>
<text x="381.1" y="293.5" text-anchor="end" font-family="Liberation Sans, sans-serif" font-size="10" font-weight="bold" fill="#111" stroke="#111" stroke-width="0.2">200</text>
<line x1="382.2" y1="255.9" x2="385.4" y2="255.9" stroke="#1a1a1a" stroke-width="1.2"/>
<text x="381.1" y="259.5" text-anchor="end" font-family="Liberation Sans, sans-serif" font-size="10" font-weight="bold" fill="#111" stroke="#111" stroke-width="0.2">300</text>
<line x1="382.2" y1="221.8" x2="385.4" y2="221.8" stroke="#1a1a1a" stroke-width="1.2"/>
<text x="381.1" y="225.4" text-anchor="end" font-family="Liberation Sans, sans-serif" font-size="10" font-weight="bold" fill="#111" stroke="#111" stroke-width="0.2">400</text>
<line x1="407.9" y1="358.0" x2="407.9" y2="361.3" stroke="#1a1a1a" stroke-width="1.2"/>
<text x="407.9" y="371.4" text-anchor="middle" font-family="Liberation Sans, sans-serif" font-size="10" font-weight="bold" fill="#111" stroke="#111" stroke-width="0.2">18</text>
<line x1="453.6" y1="358.0" x2="453.6" y2="361.3" stroke="#1a1a1a" stroke-width="1.2"/>
<text x="453.6" y="371.4" text-anchor="middle" font-family="Liberation Sans, sans-serif" font-size="10" font-weight="bold" fill="#111" stroke="#111" stroke-width="0.2">20</text>
<line x1="499.4" y1="358.0" x2="499.4" y2="361.3" stroke="#1a1a1a" stroke-width="1.2"/>
<text x="499.4" y="371.4" text-anchor="middle" font-family="Liberation Sans, sans-serif" font-size="10" font-weight="bold" fill="#111" stroke="#111" stroke-width="0.2">22</text>
<text x="453.3" y="386.9" text-anchor="middle" font-family="Liberation Sans, sans-serif" font-size="11" font-weight="bold" fill="#111" stroke="#111" stroke-width="0.2">Acyl chain length</text>
<g transform="translate(360.0,283.5) rotate(-90)"><text x="0" y="0" text-anchor="middle" font-family="Liberation Sans, sans-serif" font-size="11" font-weight="bold" fill="#111" stroke="#111" stroke-width="0.2">Current density (pA/pF)</text></g>
<rect x="549.1" y="221.1" width="136.4" height="136.3" fill="#f4e6eb"/>
<text x="537.3" y="206.1" font-family="Liberation Sans, sans-serif" font-size="14" font-weight="bold" fill="#111" stroke="#111" stroke-width="0.2">E</text>
<text x="593.6" y="229.1" font-family="Liberation Sans, sans-serif" font-size="7.25" font-weight="bold" fill="#111" textLength="89.1" lengthAdjust="spacingAndGlyphs">Spearman correlation test</text>
<text x="615.1" y="236.9" font-family="Liberation Sans, sans-serif" font-size="7.2" fill="#222" textLength="45.7" lengthAdjust="spacingAndGlyphs">p-value = 0.25</text>
<g stroke="#8f2cf5" stroke-width="1" opacity="0.6"><line x1="587.62" y1="229.2" x2="587.62" y2="243.8"/><line x1="584.12" y1="229.2" x2="591.12" y2="229.2"/><line x1="584.12" y1="243.8" x2="591.12" y2="243.8"/></g>
<g stroke="#ffcf70" stroke-width="1" opacity="0.6"><line x1="568.2" y1="311.2" x2="568.2" y2="327.5"/><line x1="564.7" y1="311.2" x2="571.7" y2="311.2"/><line x1="564.7" y1="327.5" x2="571.7" y2="327.5"/></g>
<g stroke="#f5338f" stroke-width="1" opacity="0.6"><line x1="626.46" y1="281.6" x2="626.46" y2="297.6"/><line x1="622.96" y1="281.6" x2="629.96" y2="281.6"/><line x1="622.96" y1="297.6" x2="629.96" y2="297.6"/></g>
<g stroke="#0c8a14" stroke-width="1" opacity="0.6"><line x1="645.8800000000001" y1="278.5" x2="645.8800000000001" y2="292.8"/><line x1="642.3800000000001" y1="278.5" x2="649.3800000000001" y2="278.5"/><line x1="642.3800000000001" y1="292.8" x2="649.3800000000001" y2="292.8"/></g>
<g stroke="#188c8c" stroke-width="1" opacity="0.6"><line x1="587.62" y1="295.5" x2="587.62" y2="305.7"/><line x1="584.12" y1="295.5" x2="591.12" y2="295.5"/><line x1="584.12" y1="305.7" x2="591.12" y2="305.7"/></g>
<g stroke="#8a4a10" stroke-width="1" opacity="0.6"><line x1="626.46" y1="311.5" x2="626.46" y2="322.0"/><line x1="622.96" y1="311.5" x2="629.96" y2="311.5"/><line x1="622.96" y1="322.0" x2="629.96" y2="322.0"/></g>
<g stroke="#ff8c0c" stroke-width="1" opacity="0.6"><line x1="665.3000000000001" y1="254.7" x2="665.3000000000001" y2="271.7"/><line x1="661.8000000000001" y1="254.7" x2="668.8000000000001" y2="254.7"/><line x1="661.8000000000001" y1="271.7" x2="668.8000000000001" y2="271.7"/></g>
<g stroke="#ff85ff" stroke-width="1" opacity="0.6"><line x1="645.8800000000001" y1="266.3" x2="645.8800000000001" y2="280.6"/><line x1="642.3800000000001" y1="266.3" x2="649.3800000000001" y2="266.3"/><line x1="642.3800000000001" y1="280.6" x2="649.3800000000001" y2="280.6"/></g>
<g stroke="#87871a" stroke-width="1" opacity="0.6"><line x1="645.8800000000001" y1="298.9" x2="645.8800000000001" y2="316.6"/><line x1="642.3800000000001" y1="298.9" x2="649.3800000000001" y2="298.9"/><line x1="642.3800000000001" y1="316.6" x2="649.3800000000001" y2="316.6"/></g>
<circle cx="587.62" cy="236.7" r="2.65" fill="#fff" stroke="#8f2cf5" stroke-width="1.3"/>
<circle cx="568.2" cy="319.3" r="2.65" fill="#fff" stroke="#ffcf70" stroke-width="1.3"/>
<circle cx="607.0400000000001" cy="350.6" r="2.65" fill="#fff" stroke="#108cff" stroke-width="1.3"/>
<circle cx="626.46" cy="289.7" r="2.65" fill="#fff" stroke="#f5338f" stroke-width="1.3"/>
<circle cx="645.8800000000001" cy="285.7" r="2.65" fill="#fff" stroke="#0c8a14" stroke-width="1.3"/>
<circle cx="587.62" cy="301.0" r="2.65" fill="#fff" stroke="#188c8c" stroke-width="1.3"/>
<circle cx="626.46" cy="316.9" r="2.65" fill="#fff" stroke="#8a4a10" stroke-width="1.3"/>
<circle cx="665.3000000000001" cy="263.2" r="2.65" fill="#fff" stroke="#ff8c0c" stroke-width="1.3"/>
<circle cx="645.8800000000001" cy="273.8" r="2.65" fill="#fff" stroke="#ff85ff" stroke-width="1.3"/>
<circle cx="645.8800000000001" cy="307.4" r="2.65" fill="#fff" stroke="#87871a" stroke-width="1.3"/>
<line x1="548.5" y1="220.8" x2="548.5" y2="358.0" stroke="#1a1a1a" stroke-width="1.4"/>
<line x1="547.9" y1="357.4" x2="685.5" y2="357.4" stroke="#1a1a1a" stroke-width="1.4"/>
<line x1="545.3" y1="357.4" x2="548.5" y2="357.4" stroke="#1a1a1a" stroke-width="1.2"/>
<text x="544.2" y="361.0" text-anchor="end" font-family="Liberation Sans, sans-serif" font-size="10" font-weight="bold" fill="#111" stroke="#111" stroke-width="0.2">0</text>
<line x1="545.3" y1="323.4" x2="548.5" y2="323.4" stroke="#1a1a1a" stroke-width="1.2"/>
<text x="544.2" y="327.0" text-anchor="end" font-family="Liberation Sans, sans-serif" font-size="10" font-weight="bold" fill="#111" stroke="#111" stroke-width="0.2">100</text>
<line x1="545.3" y1="289.4" x2="548.5" y2="289.4" stroke="#1a1a1a" stroke-width="1.2"/>
<text x="544.2" y="293.0" text-anchor="end" font-family="Liberation Sans, sans-serif" font-size="10" font-weight="bold" fill="#111" stroke="#111" stroke-width="0.2">200</text>
<line x1="545.3" y1="255.4" x2="548.5" y2="255.4" stroke="#1a1a1a" stroke-width="1.2"/>
<text x="544.2" y="259.0" text-anchor="end" font-family="Liberation Sans, sans-serif" font-size="10" font-weight="bold" fill="#111" stroke="#111" stroke-width="0.2">300</text>
<line x1="545.3" y1="221.4" x2="548.5" y2="221.4" stroke="#1a1a1a" stroke-width="1.2"/>
<text x="544.2" y="225.0" text-anchor="end" font-family="Liberation Sans, sans-serif" font-size="10" font-weight="bold" fill="#111" stroke="#111" stroke-width="0.2">400</text>
<line x1="568.2" y1="357.4" x2="568.2" y2="360.7" stroke="#1a1a1a" stroke-width="1.2"/>
<text x="568.2" y="370.8" text-anchor="middle" font-family="Liberation Sans, sans-serif" font-size="10" font-weight="bold" fill="#111" stroke="#111" stroke-width="0.2">1</text>
<line x1="587.62" y1="357.4" x2="587.62" y2="360.7" stroke="#1a1a1a" stroke-width="1.2"/>
<text x="587.62" y="370.8" text-anchor="middle" font-family="Liberation Sans, sans-serif" font-size="10" font-weight="bold" fill="#111" stroke="#111" stroke-width="0.2">2</text>
<line x1="607.0400000000001" y1="357.4" x2="607.0400000000001" y2="360.7" stroke="#1a1a1a" stroke-width="1.2"/>
<text x="607.0400000000001" y="370.8" text-anchor="middle" font-family="Liberation Sans, sans-serif" font-size="10" font-weight="bold" fill="#111" stroke="#111" stroke-width="0.2">3</text>
<line x1="626.46" y1="357.4" x2="626.46" y2="360.7" stroke="#1a1a1a" stroke-width="1.2"/>
<text x="626.46" y="370.8" text-anchor="middle" font-family="Liberation Sans, sans-serif" font-size="10" font-weight="bold" fill="#111" stroke="#111" stroke-width="0.2">4</text>
<line x1="645.8800000000001" y1="357.4" x2="645.8800000000001" y2="360.7" stroke="#1a1a1a" stroke-width="1.2"/>
<text x="645.8800000000001" y="370.8" text-anchor="middle" font-family="Liberation Sans, sans-serif" font-size="10" font-weight="bold" fill="#111" stroke="#111" stroke-width="0.2">5</text>
<line x1="665.3000000000001" y1="357.4" x2="665.3000000000001" y2="360.7" stroke="#1a1a1a" stroke-width="1.2"/>
<text x="665.3000000000001" y="370.8" text-anchor="middle" font-family="Liberation Sans, sans-serif" font-size="10" font-weight="bold" fill="#111" stroke="#111" stroke-width="0.2">6</text>
<text x="616.9" y="386.9" text-anchor="middle" font-family="Liberation Sans, sans-serif" font-size="11" font-weight="bold" fill="#111" stroke="#111" stroke-width="0.2">Number of double bounds</text>
</svg>
</body></html>
